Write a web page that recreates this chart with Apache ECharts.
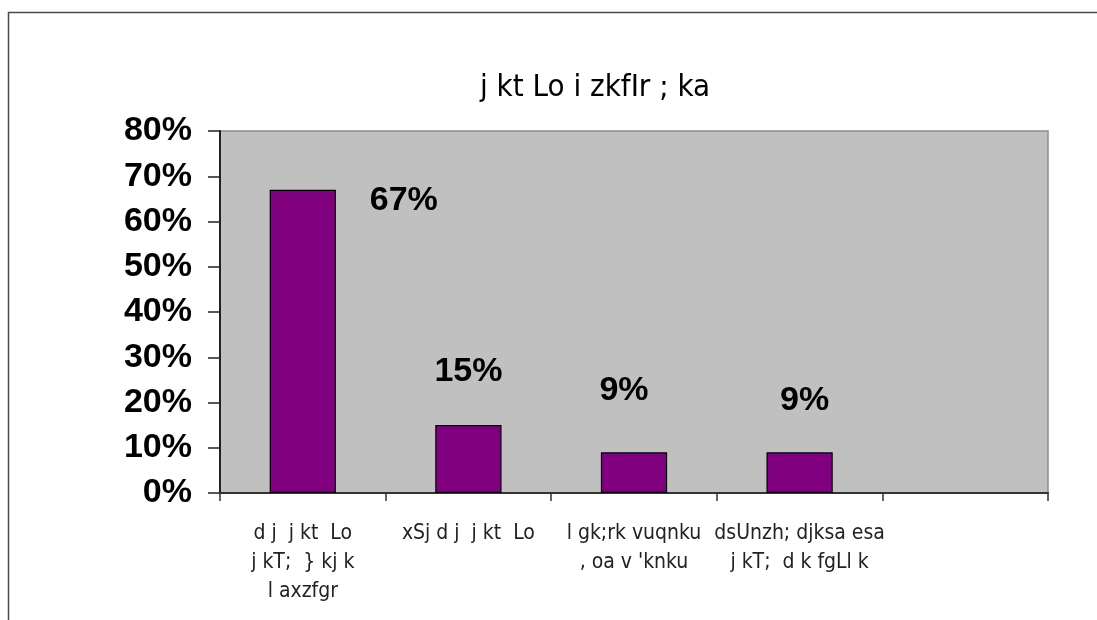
<!DOCTYPE html>
<html>
<head>
<meta charset="utf-8">
<style>
  html, body { margin: 0; padding: 0; background: #ffffff; }
  #chart { width: 1097px; height: 620px; }
</style>
<script src="https://cdn.jsdelivr.net/npm/echarts@6/dist/echarts.min.js"></script>
</head>
<body>
<div id="chart"></div>
<script>
// Chart title and category labels
const chartTitle = 'j kt Lo i zkfIr ; ka';
const categories = [
  'd j  j kt  Lo\nj kT;  } kj k\nl axzfgr',
  'xSj d j  j kt  Lo',
  'l gk;rk vuqnku\n, oa v \'knku',
  'dsUnzh; djksa esa\nj kT;  d k fgLl k',
  ''
];
// Share of each receipt type, in percent
const shares = [67, 15, 9, 9, null];
// Y axis range and step, in percent
const yMin = 0;
const yMax = 80;
const yStep = 10;

const narrowFont = "'Liberation Sans Narrow', 'Arial Narrow', 'DejaVu Sans Condensed', 'Liberation Sans', sans-serif";
const boldFont = "'Liberation Sans', Arial, sans-serif";

// Hand-placed value labels, shifted from the default spot above each bar
const labelShift = [[101, 33], [0, -32], [-10, -40], [5, -30], [0, 0]];

const chart = echarts.init(document.getElementById('chart'), null, { renderer: 'canvas' });

chart.setOption({
  backgroundColor: '#ffffff',
  animation: false,
  title: {
    text: chartTitle,
    left: 480,
    top: 72,
    padding: 0,
    textStyle: { fontFamily: narrowFont, fontSize: 31, fontWeight: 'normal', color: '#000000' }
  },
  graphic: [{
    type: 'rect',
    shape: { x: 8.5, y: 12.5, width: 1300, height: 800 },
    style: { fill: 'none', stroke: '#4a4a4a', lineWidth: 1.5 },
    silent: true,
    z: 0
  }],
  grid: {
    left: 220, right: 49, top: 131, bottom: 127,
    show: true,
    backgroundColor: '#c0c0c0',
    borderColor: '#8c8c8c',
    borderWidth: 1.5
  },
  xAxis: {
    type: 'category',
    data: categories,
    boundaryGap: true,
    axisLine: { show: true, lineStyle: { color: '#333333', width: 2 } },
    axisTick: { show: true, inside: false, length: 8, alignWithLabel: false, lineStyle: { color: '#333333', width: 1.5 } },
    axisLabel: {
      interval: 0,
      margin: 26,
      fontFamily: narrowFont,
      fontSize: 21,
      lineHeight: 29,
      color: '#222222',
      align: 'center'
    },
    splitLine: { show: false }
  },
  yAxis: {
    type: 'value',
    min: yMin,
    max: yMax,
    interval: yStep,
    axisLine: { show: true, lineStyle: { color: '#222222', width: 2 } },
    axisTick: { show: true, inside: false, length: 12, lineStyle: { color: '#222222', width: 1.5 } },
    axisLabel: {
      margin: 28,
      formatter: '{value}%',
      fontFamily: boldFont,
      fontSize: 34,
      fontWeight: 'bold',
      color: '#000000'
    },
    splitLine: { show: false }
  },
  series: [{
    type: 'bar',
    barWidth: '40%',
    data: shares.map((v, i) => ({
      value: v,
      label: { offset: labelShift[i] }
    })),
    itemStyle: { color: '#800080', borderColor: '#000000', borderWidth: 1.2 },
    label: {
      show: true,
      position: 'top',
      distance: 5,
      formatter: (p) => (p.value == null ? '' : p.value + '%'),
      fontFamily: boldFont,
      fontSize: 34,
      fontWeight: 'bold',
      color: '#000000'
    }
  }]
});
</script>
</body>
</html>
